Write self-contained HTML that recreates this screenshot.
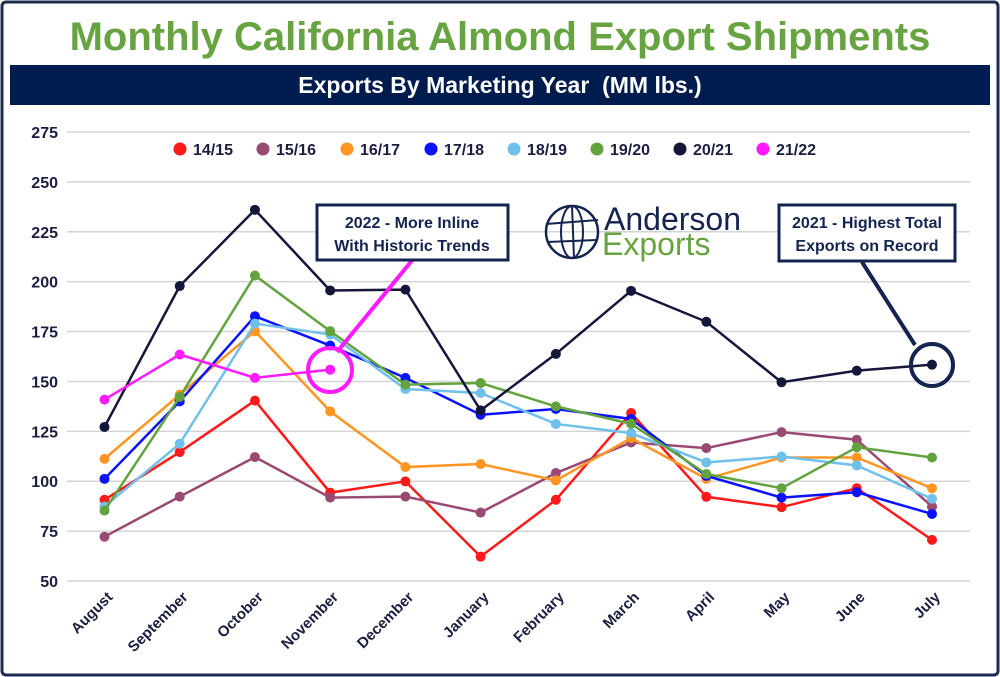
<!DOCTYPE html>
<html><head><meta charset="utf-8"><style>
body{margin:0;background:#fff;}
svg{display:block;font-family:"Liberation Sans",sans-serif;}
</style></head><body>
<svg id="chart" width="1000" height="677" viewBox="0 0 1000 677">
<rect x="2" y="2" width="996" height="673" rx="4" fill="#fff" stroke="#1c2b4f" stroke-width="3"/>
<text x="500" y="50" text-anchor="middle" font-size="40" font-weight="bold" fill="#67a340">Monthly California Almond Export Shipments</text>
<rect x="10" y="65" width="980" height="40" fill="#001c4f"/>
<text x="500" y="93" text-anchor="middle" font-size="23" font-weight="bold" fill="#fff">Exports By Marketing Year &#160;(MM lbs.)</text>
<g id="grid"></g><g id="legend"></g><g id="series"></g>
<g>
<line x1="337" y1="352" x2="414" y2="258" stroke="#ff1aff" stroke-width="4"/>
<circle cx="330" cy="370" r="22" fill="none" stroke="#ff1aff" stroke-width="4"/>
<rect x="317" y="205" width="191" height="55" fill="#fff" stroke="#14244f" stroke-width="3"/>
<text x="412" y="228" text-anchor="middle" font-size="16" font-weight="bold" fill="#14244f">2022 - More Inline</text>
<text x="412" y="251" text-anchor="middle" font-size="16" font-weight="bold" fill="#14244f">With Historic Trends</text>
</g>
<g>
<line x1="862" y1="262" x2="915" y2="345" stroke="#14244f" stroke-width="4"/>
<circle cx="932" cy="365" r="21" fill="none" stroke="#14244f" stroke-width="4"/>
<rect x="779" y="205" width="176" height="56" fill="#fff" stroke="#14244f" stroke-width="3"/>
<text x="867" y="228" text-anchor="middle" font-size="16" font-weight="bold" fill="#14244f">2021 - Highest Total</text>
<text x="867" y="251" text-anchor="middle" font-size="16" font-weight="bold" fill="#14244f">Exports on Record</text>
</g>
<g>
<circle cx="572" cy="232" r="26" fill="none" stroke="#14244f" stroke-width="2.5"/>
<ellipse cx="572" cy="232" rx="11" ry="26" fill="none" stroke="#14244f" stroke-width="2"/>
<line x1="546" y1="224" x2="598" y2="220" stroke="#14244f" stroke-width="2"/>
<line x1="547" y1="242" x2="597" y2="240" stroke="#14244f" stroke-width="2"/>
<line x1="572" y1="206" x2="574" y2="258" stroke="#14244f" stroke-width="2"/>
<text x="604" y="230" font-size="32" fill="#14244f">Anderson</text>
<text x="602" y="255" font-size="32" fill="#67a340">Exports</text>
</g>
</svg>
<script>
const months=["August","September","October","November","December","January","February","March","April","May","June","July"];
const yTicks=[50,75,100,125,150,175,200,225,250,275];
const seriesNames=["14/15","15/16","16/17","17/18","18/19","19/20","20/21","21/22"];
const seriesColors=["#ff1a1a","#9a4a72","#ff9522","#0a12ff","#6fc0ea","#63a33e","#15173a","#ff1aff"];
const s1415=[90.7,114.6,140.4,94.3,99.9,62.2,90.7,134.2,92.2,87,96.5,70.6];
const s1516=[72.2,92.3,112.1,91.8,92.3,84.3,104.1,119.4,116.6,124.6,120.8,87.3];
const s1617=[111.2,143.4,175.2,135,107.1,108.6,100.4,121.6,101.2,111.9,111.9,96.5];
const s1718=[101.2,140,182.7,168,151.8,133.3,136.2,131.2,102.7,91.8,94.5,83.6];
const s1819=[87.3,118.8,179,173.5,146.2,144.2,128.7,124.1,109.4,112.4,107.9,91.2];
const s1920=[85.3,142.2,203.1,175.2,148.4,149.2,137.5,128.8,103.6,96.5,117,111.9];
const s2021=[127.2,197.8,236,195.6,196,135.5,163.8,195.4,179.9,149.6,155.4,158.4];
const s2122=[140.9,163.5,151.8,155.9];
const allSeries=[s1415,s1516,s1617,s1718,s1819,s1920,s2021,s2122];
const NS="http://www.w3.org/2000/svg";
function xS(i){return 104.5+i*(932-104.5)/11;}
function yS(v){return 581-(v-50)*(581-132)/225;}
function mk(t,p,a){const e=document.createElementNS(NS,t);for(const k in a)e.setAttribute(k,a[k]);p.appendChild(e);return e;}
const grid=document.getElementById('grid');
yTicks.forEach(t=>{
 const l=mk('line',grid,{x1:67,x2:970,y1:yS(t),y2:yS(t),stroke:'#d4d4d4','stroke-width':1.5});
 
 
 const tx=mk('text',grid,{x:58,y:yS(t)+6,'text-anchor':'end','font-size':16,'font-weight':'bold',fill:'#1b1e3f'});
 tx.textContent=t;
 
 
});
months.forEach((m,i)=>{
 const tx=mk('text',grid,{x:0,y:0,'text-anchor':'end','font-size':15,'font-weight':'bold',fill:'#1b1e3f',transform:`translate(${xS(i)+9},${598}) rotate(-45)`});
 tx.textContent=m;
 
 
});
const leg=document.getElementById('legend');
const legX=[180,263,347,431,514,597,680,763];
seriesNames.forEach((n,i)=>{
 const g=mk('g',leg,{});
 
 
 mk('circle',g,{cx:legX[i],cy:149,r:6.5,fill:seriesColors[i]});
 const t=mk('text',g,{x:legX[i]+13,y:155,'font-size':16,'font-weight':'bold',fill:'#1b1e3f'});
 t.textContent=n;
});
const ser=document.getElementById('series');
allSeries.forEach((d,si)=>{
 const g=mk('g',ser,{});
 
 
 mk('polyline',g,{points:d.map((v,i)=>xS(i)+','+yS(v)).join(' '),fill:'none',stroke:seriesColors[si],'stroke-width':2.5});
 d.forEach((v,i)=>{
  const c=mk('circle',g,{cx:xS(i),cy:yS(v),r:5,fill:seriesColors[si]});
  
  
 });
});
</script>
</body></html>
